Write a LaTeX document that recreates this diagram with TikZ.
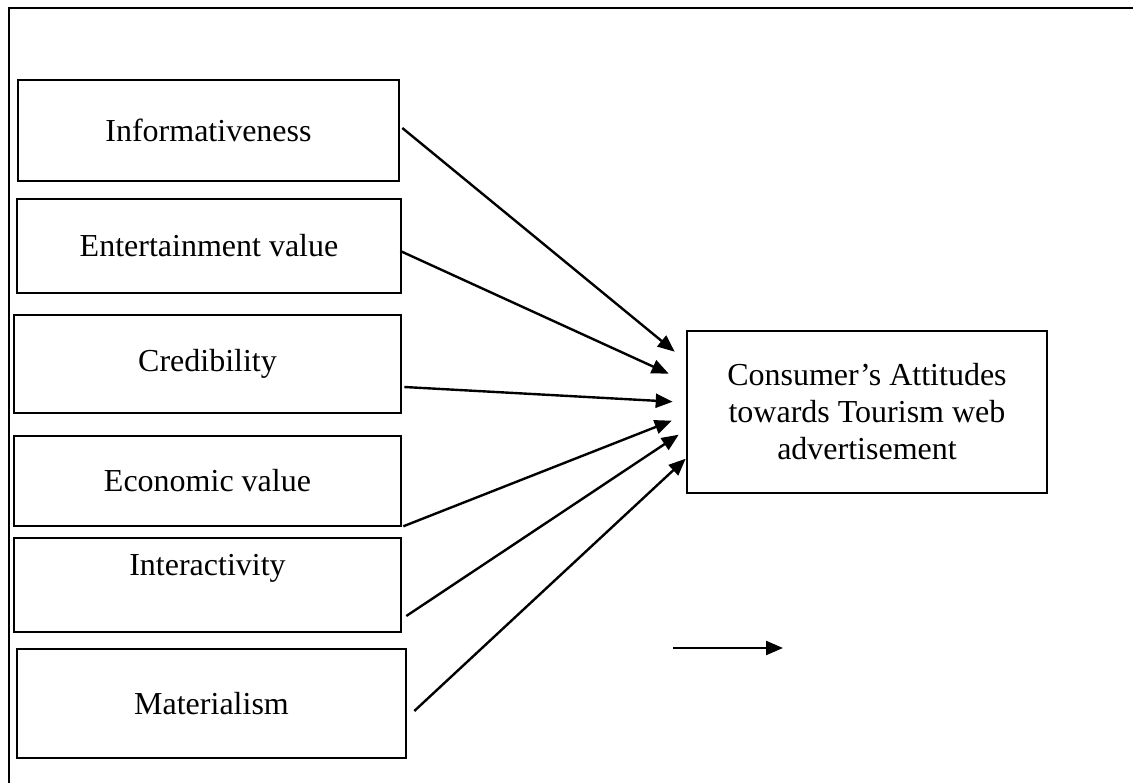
\documentclass[tikz,border=0pt]{standalone}
\usepackage{fontspec}
\setmainfont{Liberation Serif}
\usetikzlibrary{arrows.meta,calc}
\begin{document}
\begin{tikzpicture}[x=1pt,y=-1pt,
  box/.style={draw,line width=2.6pt,inner sep=0pt,font=\fontsize{32}{37}\selectfont,align=center},
  link/.style={line width=2.4pt,-{Triangle[length=17pt,width=14pt]}},
  frame/.style={line width=2.5pt}]
\useasboundingbox (0,0) rectangle (1133,783);
\draw[frame] (1140,8) -- (9,8) -- (9,790);
% left boxes
\node[box,minimum width=381pt,minimum height=101pt] (inf) at (208.5,130.5) {Informativeness};
\node[box,minimum width=384pt,minimum height=94pt] (ent) at (209,246) {Entertainment value};
\node[box,minimum width=387pt,minimum height=98pt] (cred) at (207.5,364) {Credibility};
\node[box,minimum width=387pt,minimum height=90pt] (econ) at (207.5,481) {Economic value};
\node[box,minimum width=387pt,minimum height=94pt] (inter) at (207.5,585) {};
\node[font=\fontsize{32}{37}\selectfont,inner sep=0pt] (intertext) at ($(inter.center)+(0,-17)$) {Interactivity};
\node[box,minimum width=389pt,minimum height=109pt] (mat) at (211.5,703.5) {Materialism};
% target box
\node[box,minimum width=360pt,minimum height=162pt] (cat) at (867,412) {Consumer’s Attitudes\\towards Tourism web\\advertisement};
% connector end points
\coordinate (s1) at ($(inf.east)+(2,-2.5)$);
\coordinate (s2) at ($(ent.east)+(-2,5)$);
\coordinate (s3) at ($(cred.east)+(2,23)$);
\coordinate (s4) at ($(econ.south east)+(1,-1)$);
\coordinate (s5) at ($(inter.east)+(4,31)$);
\coordinate (s6) at ($(mat.east)+(7,7.5)$);
\coordinate (e1) at ($(cat.north west)+(-11,22)$);
\coordinate (e2) at ($(cat.north west)+(-17,44)$);
\coordinate (e3) at ($(cat.north west)+(-13,72)$);
\coordinate (e4) at ($(cat.north west)+(-14,91)$);
\coordinate (e5) at ($(cat.north west)+(-7,105)$);
\coordinate (e6) at ($(cat.north west)+(0,129)$);
\draw[link] (s1) -- (e1);
\draw[link] (s2) -- (e2);
\draw[link] (s3) -- (e3);
\draw[link] (s4) -- (e4);
\draw[link] (s5) -- (e5);
\draw[link] (s6) -- (e6);
% free arrow
\coordinate (f1) at (673,648);
\coordinate (f2) at (783,648);
\draw[link] (f1) -- (f2);
\end{tikzpicture}
\end{document}
